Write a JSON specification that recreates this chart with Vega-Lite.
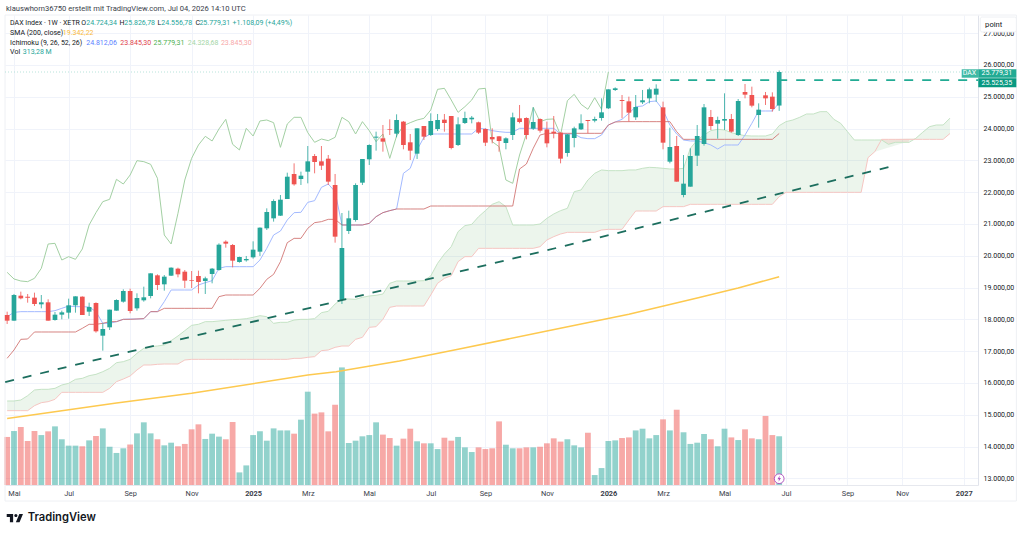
{
"$schema":"https://vega.github.io/schema/vega-lite/v6.json",
"autosize":"none",
"padding":{"left":5,"top":15,"right":46,"bottom":50},
"width":973,
"height":470,
"background":"white",
"title":{"text":"klauswhorn36750 erstellt mit TradingView.com, Jul 04, 2026 14:10 UTC","anchor":"start","frame":"group","font":"Roboto","fontSize":7.6,"fontWeight":"normal","color":"#3a3e4a","offset":1.5,"dx":1},
"config":{"view":{"stroke":null},"font":"Roboto","axis":{"labelOverlap":false}},
"datasets":{
"weeks":[
{"date":"2024-04-29","dir":"down","open":18137,"high":18242,"low":17854,"close":17959,"volume":309,"tenkan":18085,"kijun":16775,"chikou":19479,"spanA":15433,"spanB":15129},
{"date":"2024-05-06","dir":"up","open":17959,"high":18798,"low":17959,"close":18766,"volume":347,"tenkan":18221,"kijun":17037,"chikou":19270,"spanA":15433,"spanB":15129},
{"date":"2024-05-13","dir":"down","open":18745,"high":18871,"low":18630,"close":18661,"volume":373,"tenkan":18242,"kijun":17372,"chikou":19207,"spanA":15464,"spanB":15129},
{"date":"2024-05-20","dir":"down","open":18714,"high":18798,"low":18525,"close":18683,"volume":283,"tenkan":18242,"kijun":17383,"chikou":19186,"spanA":15600,"spanB":15129},
{"date":"2024-05-27","dir":"down","open":18683,"high":18840,"low":18420,"close":18483,"volume":347,"tenkan":18242,"kijun":17603,"chikou":19291,"spanA":15779,"spanB":15286},
{"date":"2024-06-03","dir":"up","open":18473,"high":18766,"low":18347,"close":18536,"volume":321,"tenkan":18242,"kijun":17603,"chikou":19605,"spanA":15800,"spanB":15380},
{"date":"2024-06-10","dir":"down","open":18536,"high":18630,"low":17959,"close":17959,"volume":345,"tenkan":18242,"kijun":17603,"chikou":20370,"spanA":15800,"spanB":15412},
{"date":"2024-06-17","dir":"up","open":17980,"high":18232,"low":17959,"close":18148,"volume":377,"tenkan":18274,"kijun":17603,"chikou":20391,"spanA":15831,"spanB":15485},
{"date":"2024-06-24","dir":"up","open":18148,"high":18274,"low":18001,"close":18221,"volume":294,"tenkan":18347,"kijun":17603,"chikou":19867,"spanA":15936,"spanB":15705},
{"date":"2024-07-01","dir":"up","open":18211,"high":18651,"low":18022,"close":18441,"volume":253,"tenkan":18420,"kijun":17603,"chikou":19972,"spanA":15988,"spanB":15705},
{"date":"2024-07-08","dir":"up","open":18441,"high":18724,"low":18211,"close":18724,"volume":253,"tenkan":18399,"kijun":17603,"chikou":19888,"spanA":16114,"spanB":15705},
{"date":"2024-07-15","dir":"down","open":18714,"high":18724,"low":18137,"close":18137,"volume":249,"tenkan":18399,"kijun":17718,"chikou":20213,"spanA":16145,"spanB":15705},
{"date":"2024-07-22","dir":"up","open":18242,"high":18525,"low":18106,"close":18389,"volume":287,"tenkan":18389,"kijun":17844,"chikou":20968,"spanA":16229,"spanB":15705},
{"date":"2024-07-29","dir":"down","open":18515,"high":18536,"low":17582,"close":17624,"volume":315,"tenkan":18242,"kijun":17844,"chikou":21356,"spanA":16271,"spanB":15705},
{"date":"2024-08-05","dir":"up","open":17487,"high":17875,"low":17016,"close":17697,"volume":364,"tenkan":17875,"kijun":17875,"chikou":21702,"spanA":16355,"spanB":15705},
{"date":"2024-08-12","dir":"up","open":17750,"high":18305,"low":17666,"close":18305,"volume":246,"tenkan":17875,"kijun":17928,"chikou":21775,"spanA":16460,"spanB":15831},
{"date":"2024-08-19","dir":"up","open":18274,"high":18630,"low":18274,"close":18609,"volume":206,"tenkan":17928,"kijun":17928,"chikou":22404,"spanA":16638,"spanB":16041},
{"date":"2024-08-26","dir":"up","open":18557,"high":18945,"low":18525,"close":18892,"volume":236,"tenkan":18001,"kijun":18001,"chikou":22257,"spanA":16670,"spanB":16124},
{"date":"2024-09-02","dir":"down","open":18892,"high":18966,"low":18190,"close":18263,"volume":261,"tenkan":18012,"kijun":18001,"chikou":22540,"spanA":16743,"spanB":16219},
{"date":"2024-09-09","dir":"up","open":18347,"high":18819,"low":18274,"close":18672,"volume":332,"tenkan":18012,"kijun":18012,"chikou":22991,"spanA":16932,"spanB":16408},
{"date":"2024-09-16","dir":"up","open":18599,"high":19028,"low":18557,"close":18693,"volume":403,"tenkan":18022,"kijun":18022,"chikou":22960,"spanA":17089,"spanB":16565},
{"date":"2024-09-23","dir":"up","open":18735,"high":19448,"low":18661,"close":19448,"volume":332,"tenkan":18242,"kijun":18242,"chikou":22876,"spanA":17141,"spanB":16565},
{"date":"2024-09-30","dir":"down","open":19385,"high":19416,"low":18924,"close":19081,"volume":294,"tenkan":18242,"kijun":18242,"chikou":22436,"spanA":17162,"spanB":16586},
{"date":"2024-10-07","dir":"up","open":19102,"high":19395,"low":18903,"close":19343,"volume":255,"tenkan":18557,"kijun":18347,"chikou":20653,"spanA":17194,"spanB":16596},
{"date":"2024-10-14","dir":"up","open":19374,"high":19636,"low":19364,"close":19626,"volume":272,"tenkan":18924,"kijun":18347,"chikou":20370,"spanA":17330,"spanB":16596},
{"date":"2024-10-21","dir":"down","open":19595,"high":19626,"low":19322,"close":19416,"volume":249,"tenkan":18924,"kijun":18347,"chikou":21335,"spanA":17477,"spanB":16596},
{"date":"2024-10-28","dir":"down","open":19500,"high":19553,"low":18986,"close":19217,"volume":264,"tenkan":18924,"kijun":18347,"chikou":22383,"spanA":17645,"spanB":16722},
{"date":"2024-11-04","dir":"down","open":19238,"high":19521,"low":18986,"close":19217,"volume":358,"tenkan":18924,"kijun":18347,"chikou":23065,"spanA":17812,"spanB":16743},
{"date":"2024-11-11","dir":"down","open":19364,"high":19532,"low":18819,"close":19175,"volume":390,"tenkan":19081,"kijun":18347,"chikou":23484,"spanA":17844,"spanB":16743},
{"date":"2024-11-18","dir":"up","open":19207,"high":19343,"low":18798,"close":19290,"volume":296,"tenkan":19154,"kijun":18347,"chikou":23756,"spanA":17928,"spanB":16743},
{"date":"2024-11-25","dir":"up","open":19427,"high":19615,"low":19133,"close":19595,"volume":330,"tenkan":19217,"kijun":18347,"chikou":23610,"spanA":17928,"spanB":16743},
{"date":"2024-12-02","dir":"up","open":19553,"high":20391,"low":19532,"close":20349,"volume":311,"tenkan":19605,"kijun":18714,"chikou":23987,"spanA":17949,"spanB":16743},
{"date":"2024-12-09","dir":"down","open":20444,"high":20486,"low":20255,"close":20381,"volume":294,"tenkan":19657,"kijun":18766,"chikou":24291,"spanA":17970,"spanB":16743},
{"date":"2024-12-16","dir":"down","open":20339,"high":20370,"low":19636,"close":19846,"volume":405,"tenkan":19657,"kijun":18766,"chikou":23505,"spanA":17990,"spanB":16743},
{"date":"2024-12-23","dir":"up","open":19804,"high":19972,"low":19783,"close":19961,"volume":81,"tenkan":19657,"kijun":18766,"chikou":23327,"spanA":18001,"spanB":16743},
{"date":"2024-12-30","dir":"up","open":19857,"high":19993,"low":19815,"close":19899,"volume":126,"tenkan":19657,"kijun":18766,"chikou":24008,"spanA":18022,"spanB":16743},
{"date":"2025-01-06","dir":"up","open":19951,"high":20454,"low":19909,"close":20192,"volume":321,"tenkan":19657,"kijun":18766,"chikou":23767,"spanA":18064,"spanB":16743},
{"date":"2025-01-13","dir":"up","open":20129,"high":20894,"low":19993,"close":20884,"volume":345,"tenkan":19867,"kijun":18976,"chikou":24239,"spanA":18116,"spanB":16743},
{"date":"2025-01-20","dir":"up","open":20863,"high":21492,"low":20811,"close":21377,"volume":285,"tenkan":20234,"kijun":19259,"chikou":24270,"spanA":18085,"spanB":16743},
{"date":"2025-01-27","dir":"up","open":21177,"high":21775,"low":21073,"close":21723,"volume":364,"tenkan":20653,"kijun":19416,"chikou":24186,"spanA":17875,"spanB":16743},
{"date":"2025-02-03","dir":"up","open":21261,"high":21911,"low":21251,"close":21764,"volume":351,"tenkan":20779,"kijun":19815,"chikou":23410,"spanA":17907,"spanB":16743},
{"date":"2025-02-10","dir":"up","open":21785,"high":22613,"low":21785,"close":22487,"volume":351,"tenkan":21125,"kijun":20412,"chikou":24144,"spanA":17907,"spanB":16743},
{"date":"2025-02-17","dir":"down","open":22572,"high":22907,"low":22205,"close":22247,"volume":330,"tenkan":21356,"kijun":20548,"chikou":24354,"spanA":17980,"spanB":16774},
{"date":"2025-02-24","dir":"up","open":22414,"high":22645,"low":22226,"close":22519,"volume":420,"tenkan":21366,"kijun":20548,"chikou":24354,"spanA":18001,"spanB":16774},
{"date":"2025-03-03","dir":"up","open":22645,"high":23452,"low":22278,"close":22970,"volume":600,"tenkan":21681,"kijun":20863,"chikou":23872,"spanA":18001,"spanB":16806},
{"date":"2025-03-10","dir":"down","open":23138,"high":23200,"low":22593,"close":22949,"volume":459,"tenkan":21733,"kijun":21041,"chikou":23568,"spanA":18022,"spanB":16827},
{"date":"2025-03-17","dir":"down","open":22970,"high":23452,"low":22697,"close":22834,"volume":467,"tenkan":22152,"kijun":21073,"chikou":23672,"spanA":18211,"spanB":17016},
{"date":"2025-03-24","dir":"down","open":23054,"high":23169,"low":22226,"close":22331,"volume":345,"tenkan":22257,"kijun":21146,"chikou":23620,"spanA":18253,"spanB":17037},
{"date":"2025-03-31","dir":"down","open":22226,"high":22572,"low":20412,"close":20601,"volume":516,"tenkan":22016,"kijun":21146,"chikou":23725,"spanA":18483,"spanB":17120},
{"date":"2025-04-07","dir":"up","open":18609,"high":21345,"low":18483,"close":20244,"volume":756,"tenkan":20968,"kijun":20968,"chikou":24354,"spanA":18650,"spanB":17162},
{"date":"2025-04-14","dir":"up","open":20779,"high":21419,"low":20685,"close":21178,"volume":270,"tenkan":20968,"kijun":20968,"chikou":24218,"spanA":18641,"spanB":17162},
{"date":"2025-04-21","dir":"up","open":21125,"high":22278,"low":21073,"close":22226,"volume":285,"tenkan":20968,"kijun":20968,"chikou":23830,"spanA":18630,"spanB":17372},
{"date":"2025-04-28","dir":"up","open":22299,"high":23043,"low":22226,"close":23043,"volume":313,"tenkan":20968,"kijun":20968,"chikou":24218,"spanA":18693,"spanB":17435},
{"date":"2025-05-05","dir":"up","open":23033,"high":23505,"low":22855,"close":23484,"volume":321,"tenkan":21020,"kijun":21020,"chikou":23935,"spanA":18735,"spanB":17749},
{"date":"2025-05-12","dir":"up","open":23714,"high":23903,"low":23306,"close":23746,"volume":403,"tenkan":21230,"kijun":21230,"chikou":23589,"spanA":18756,"spanB":17770},
{"date":"2025-05-19","dir":"down","open":23693,"high":24113,"low":23274,"close":23589,"volume":324,"tenkan":21356,"kijun":21356,"chikou":23830,"spanA":18798,"spanB":18001},
{"date":"2025-05-26","dir":"down","open":23976,"high":24291,"low":23798,"close":23956,"volume":302,"tenkan":21419,"kijun":21419,"chikou":23064,"spanA":19133,"spanB":18378},
{"date":"2025-06-02","dir":"up","open":23840,"high":24448,"low":23725,"close":24270,"volume":253,"tenkan":21471,"kijun":21471,"chikou":23767,"spanA":19207,"spanB":18420},
{"date":"2025-06-09","dir":"down","open":24218,"high":24239,"low":23348,"close":23484,"volume":298,"tenkan":22593,"kijun":21471,"chikou":24092,"spanA":19207,"spanB":18420},
{"date":"2025-06-16","dir":"down","open":23568,"high":23830,"low":23012,"close":23306,"volume":362,"tenkan":22750,"kijun":21471,"chikou":24186,"spanA":19207,"spanB":18420},
{"date":"2025-06-23","dir":"up","open":23211,"high":24008,"low":23044,"close":24008,"volume":281,"tenkan":23327,"kijun":21471,"chikou":24270,"spanA":19207,"spanB":18420},
{"date":"2025-06-30","dir":"down","open":24081,"high":24081,"low":23641,"close":23746,"volume":268,"tenkan":23725,"kijun":21471,"chikou":24322,"spanA":19217,"spanB":18420},
{"date":"2025-07-07","dir":"up","open":23798,"high":24480,"low":23767,"close":24239,"volume":268,"tenkan":23830,"kijun":21565,"chikou":24585,"spanA":19364,"spanB":18766},
{"date":"2025-07-14","dir":"up","open":23987,"high":24459,"low":23924,"close":24270,"volume":231,"tenkan":23830,"kijun":21565,"chikou":25234,"spanA":19762,"spanB":19133},
{"date":"2025-07-21","dir":"down","open":24280,"high":24459,"low":23903,"close":24176,"volume":304,"tenkan":23830,"kijun":21565,"chikou":25266,"spanA":20056,"spanB":19290},
{"date":"2025-07-28","dir":"down","open":24396,"high":24396,"low":23348,"close":23389,"volume":285,"tenkan":23830,"kijun":21565,"chikou":24899,"spanA":20286,"spanB":19374},
{"date":"2025-08-04","dir":"up","open":23484,"high":24354,"low":23452,"close":24134,"volume":309,"tenkan":23830,"kijun":21565,"chikou":24511,"spanA":20758,"spanB":19815},
{"date":"2025-08-11","dir":"up","open":24176,"high":24532,"low":24144,"close":24333,"volume":242,"tenkan":23830,"kijun":21565,"chikou":24689,"spanA":20947,"spanB":19972},
{"date":"2025-08-18","dir":"up","open":24291,"high":24396,"low":24165,"close":24343,"volume":212,"tenkan":23830,"kijun":21565,"chikou":24899,"spanA":20989,"spanB":19972},
{"date":"2025-08-25","dir":"down","open":24197,"high":24218,"low":23830,"close":23872,"volume":242,"tenkan":24008,"kijun":21565,"chikou":25245,"spanA":21230,"spanB":20234},
{"date":"2025-09-01","dir":"down","open":23987,"high":24008,"low":23452,"close":23557,"volume":231,"tenkan":23987,"kijun":21565,"chikou":25266,"spanA":21419,"spanB":20234},
{"date":"2025-09-08","dir":"down","open":23735,"high":24008,"low":23536,"close":23662,"volume":236,"tenkan":23935,"kijun":21565,"chikou":23589,"spanA":21618,"spanB":20234},
{"date":"2025-09-15","dir":"down","open":23756,"high":23767,"low":23274,"close":23610,"volume":409,"tenkan":23903,"kijun":21565,"chikou":23431,"spanA":21702,"spanB":20234},
{"date":"2025-09-22","dir":"up","open":23547,"high":23725,"low":23348,"close":23693,"volume":259,"tenkan":23882,"kijun":21565,"chikou":22383,"spanA":21544,"spanB":20234},
{"date":"2025-09-29","dir":"up","open":23798,"high":24501,"low":23641,"close":24354,"volume":236,"tenkan":23882,"kijun":21565,"chikou":22278,"spanA":20968,"spanB":20234},
{"date":"2025-10-06","dir":"down","open":24322,"high":24742,"low":24165,"close":24207,"volume":236,"tenkan":24008,"kijun":22729,"chikou":23169,"spanA":20968,"spanB":20234},
{"date":"2025-10-13","dir":"down","open":24333,"high":24354,"low":23662,"close":23798,"volume":242,"tenkan":24008,"kijun":22886,"chikou":23830,"spanA":20968,"spanB":20234},
{"date":"2025-10-20","dir":"up","open":23998,"high":24668,"low":23956,"close":24207,"volume":242,"tenkan":24008,"kijun":23379,"chikou":24668,"spanA":20968,"spanB":20234},
{"date":"2025-10-27","dir":"down","open":24302,"high":24322,"low":23872,"close":23935,"volume":246,"tenkan":24008,"kijun":23798,"chikou":24218,"spanA":20999,"spanB":20286},
{"date":"2025-11-03","dir":"down","open":23976,"high":24218,"low":23410,"close":23536,"volume":268,"tenkan":24008,"kijun":23851,"chikou":24291,"spanA":21178,"spanB":20496},
{"date":"2025-11-10","dir":"down","open":23903,"high":24396,"low":23693,"close":23851,"volume":300,"tenkan":24008,"kijun":23851,"chikou":24302,"spanA":21314,"spanB":20601},
{"date":"2025-11-17","dir":"down","open":23872,"high":23882,"low":22907,"close":23054,"volume":279,"tenkan":23830,"kijun":23851,"chikou":23798,"spanA":21419,"spanB":20685},
{"date":"2025-11-24","dir":"up","open":23232,"high":23830,"low":23117,"close":23819,"volume":294,"tenkan":23830,"kijun":23851,"chikou":24878,"spanA":21492,"spanB":20737},
{"date":"2025-12-01","dir":"up","open":23704,"high":24060,"low":23410,"close":24008,"volume":255,"tenkan":23830,"kijun":23851,"chikou":25077,"spanA":22016,"spanB":20737},
{"date":"2025-12-08","dir":"up","open":23976,"high":24448,"low":23956,"close":24165,"volume":242,"tenkan":23714,"kijun":23851,"chikou":24763,"spanA":22069,"spanB":20737},
{"date":"2025-12-15","dir":"down","open":24270,"high":24270,"low":23851,"close":24239,"volume":336,"tenkan":23683,"kijun":23851,"chikou":24606,"spanA":22383,"spanB":20737},
{"date":"2025-12-22","dir":"up","open":24249,"high":24375,"low":24197,"close":24302,"volume":64,"tenkan":23683,"kijun":23851,"chikou":24972,"spanA":22593,"spanB":20737},
{"date":"2025-12-29","dir":"up","open":24333,"high":24951,"low":24249,"close":24511,"volume":109,"tenkan":23798,"kijun":23851,"chikou":24606,"spanA":22698,"spanB":20810},
{"date":"2026-01-05","dir":"up","open":24637,"high":25234,"low":24616,"close":25234,"volume":283,"tenkan":24113,"kijun":24113,"chikou":25779,"spanA":22677,"spanB":20831},
{"date":"2026-01-12","dir":"up","open":25213,"high":25297,"low":25182,"close":25266,"volume":287,"tenkan":24207,"kijun":24207,"spanA":22677,"spanB":20831},
{"date":"2026-01-19","dir":"down","open":24899,"high":25056,"low":24322,"close":24868,"volume":302,"tenkan":24291,"kijun":24218,"spanA":22677,"spanB":20831},
{"date":"2026-01-26","dir":"down","open":24857,"high":25004,"low":24218,"close":24501,"volume":306,"tenkan":24480,"kijun":24218,"spanA":22698,"spanB":21125},
{"date":"2026-02-02","dir":"up","open":24354,"high":25056,"low":24270,"close":24679,"volume":351,"tenkan":24689,"kijun":24218,"spanA":22698,"spanB":21408},
{"date":"2026-02-09","dir":"up","open":24826,"high":25214,"low":24773,"close":24889,"volume":362,"tenkan":24710,"kijun":24218,"spanA":22750,"spanB":21408},
{"date":"2026-02-16","dir":"up","open":24951,"high":25287,"low":24794,"close":25234,"volume":300,"tenkan":24847,"kijun":24218,"spanA":22781,"spanB":21408},
{"date":"2026-02-23","dir":"up","open":25067,"high":25392,"low":24847,"close":25255,"volume":321,"tenkan":24868,"kijun":24218,"spanA":22771,"spanB":21408},
{"date":"2026-03-02","dir":"down","open":24668,"high":24847,"low":23348,"close":23557,"volume":422,"tenkan":24585,"kijun":24218,"spanA":22750,"spanB":21545},
{"date":"2026-03-09","dir":"up","open":22960,"high":24029,"low":22907,"close":23421,"volume":351,"tenkan":24113,"kijun":24218,"spanA":22729,"spanB":21545},
{"date":"2026-03-16","dir":"down","open":23452,"high":23767,"low":22331,"close":22331,"volume":484,"tenkan":23830,"kijun":23903,"spanA":22729,"spanB":21545},
{"date":"2026-03-23","dir":"up","open":21911,"high":23169,"low":21838,"close":22268,"volume":339,"tenkan":23641,"kijun":23662,"spanA":22750,"spanB":21545},
{"date":"2026-03-30","dir":"up","open":22173,"high":23379,"low":22173,"close":23138,"volume":264,"tenkan":23610,"kijun":23662,"spanA":23379,"spanB":21618},
{"date":"2026-04-06","dir":"up","open":23148,"high":24113,"low":22823,"close":23767,"volume":272,"tenkan":23610,"kijun":23662,"spanA":23641,"spanB":21618},
{"date":"2026-04-13","dir":"up","open":23515,"high":24773,"low":23463,"close":24668,"volume":328,"tenkan":23557,"kijun":23662,"spanA":23798,"spanB":21618},
{"date":"2026-04-20","dir":"down","open":24364,"high":24585,"low":23956,"close":24081,"volume":294,"tenkan":23484,"kijun":23662,"spanA":23935,"spanB":21618},
{"date":"2026-04-27","dir":"up","open":24155,"high":24375,"low":23683,"close":24270,"volume":249,"tenkan":23358,"kijun":23662,"spanA":23977,"spanB":21618},
{"date":"2026-05-04","dir":"up","open":24249,"high":25109,"low":23956,"close":24302,"volume":362,"tenkan":23484,"kijun":23662,"spanA":23956,"spanB":21618},
{"date":"2026-05-11","dir":"down","open":24302,"high":24459,"low":23872,"close":23903,"volume":306,"tenkan":23484,"kijun":23662,"spanA":23872,"spanB":21618},
{"date":"2026-05-18","dir":"up","open":23798,"high":24930,"low":23767,"close":24868,"volume":289,"tenkan":23484,"kijun":23662,"spanA":23819,"spanB":21618},
{"date":"2026-05-25","dir":"down","open":25151,"high":25402,"low":24951,"close":25067,"volume":358,"tenkan":23798,"kijun":23662,"spanA":23777,"spanB":21618},
{"date":"2026-06-01","dir":"down","open":25056,"high":25318,"low":24668,"close":24721,"volume":300,"tenkan":24165,"kijun":23662,"spanA":23767,"spanB":21618},
{"date":"2026-06-08","dir":"up","open":24427,"high":24794,"low":24029,"close":24595,"volume":294,"tenkan":24553,"kijun":23662,"spanA":23767,"spanB":21618},
{"date":"2026-06-15","dir":"down","open":25046,"high":25151,"low":24742,"close":24951,"volume":444,"tenkan":24553,"kijun":23662,"spanA":23767,"spanB":21618},
{"date":"2026-06-22","dir":"down","open":25004,"high":25140,"low":24532,"close":24616,"volume":321,"tenkan":24553,"kijun":23662,"spanA":23830,"spanB":21618},
{"date":"2026-06-29","dir":"up","open":24724.34,"high":25826.78,"low":24556.78,"close":25779.31,"volume":313.28,"tenkan":24812.06,"kijun":23845.3,"spanA":24092,"spanB":21859},
{"date":"2026-07-06","spanA":24218,"spanB":21995},
{"date":"2026-07-13","spanA":24270,"spanB":21995},
{"date":"2026-07-20","spanA":24354,"spanB":21995},
{"date":"2026-07-27","spanA":24459,"spanB":21995},
{"date":"2026-08-03","spanA":24459,"spanB":21995},
{"date":"2026-08-10","spanA":24532,"spanB":21995},
{"date":"2026-08-17","spanA":24532,"spanB":21995},
{"date":"2026-08-24","spanA":24291,"spanB":21995},
{"date":"2026-08-31","spanA":24165,"spanB":21995},
{"date":"2026-09-07","spanA":23903,"spanB":21995},
{"date":"2026-09-14","spanA":23641,"spanB":21995},
{"date":"2026-09-21","spanA":23641,"spanB":21995},
{"date":"2026-09-28","spanA":23641,"spanB":23085},
{"date":"2026-10-05","spanA":23641,"spanB":23274},
{"date":"2026-10-12","spanA":23641,"spanB":23662},
{"date":"2026-10-19","spanA":23505,"spanB":23662},
{"date":"2026-10-26","spanA":23568,"spanB":23662},
{"date":"2026-11-02","spanA":23568,"spanB":23662},
{"date":"2026-11-09","spanA":23568,"spanB":23662},
{"date":"2026-11-16","spanA":23693,"spanB":23662},
{"date":"2026-11-23","spanA":23882,"spanB":23662},
{"date":"2026-11-30","spanA":24060,"spanB":23662},
{"date":"2026-12-07","spanA":24113,"spanB":23662},
{"date":"2026-12-14","spanA":24113,"spanB":23662},
{"date":"2026-12-21","spanA":24328.68,"spanB":23845.3}
],
"sma":[
{"date":"2024-04-29","value":14882},
{"date":"2024-08-19","value":15370},
{"date":"2024-11-04","value":15675},
{"date":"2025-03-03","value":16250},
{"date":"2025-04-01","value":16354},
{"date":"2025-06-05","value":16690},
{"date":"2025-08-04","value":17058},
{"date":"2025-11-03","value":17634},
{"date":"2026-01-26","value":18160},
{"date":"2026-04-06","value":18672},
{"date":"2026-05-18","value":18985},
{"date":"2026-06-29","value":19342.22}
],
"trend":[{"date":"2024-04-27","value":16030},{"date":"2026-10-26","value":22839}],
"level":[{"date":"2026-01-13","value":25525.35},{"date":"2027-01-18T17:00:00Z","value":25525.35}],
"lastClose":[{"date":"2024-04-26T19:00:00Z","value":25779.31},{"date":"2027-01-18T17:00:00Z","value":25779.31}],
"frame":[{"date":"2024-04-26T19:00:00Z","date2":"2027-02-27","top":27572,"bottom":12287}],
"box":[{"date":"2027-01-21","date2":"2027-02-27","top":27509,"bottom":27038}],
"tags":[
{"date":"2027-01-02","date2":"2027-01-19","top":25865,"bottom":25600,"kind":"tagName"},
{"date":"2027-01-19","date2":"2027-02-27","top":25865,"bottom":25600,"kind":"tagClose"},
{"date":"2027-01-19","date2":"2027-02-27","top":25581,"bottom":25298,"kind":"tagLevel"}
],
"tagText":[
{"date":"2027-01-10","value":25733,"text":"DAX"},
{"date":"2027-02-07","value":25733,"text":"25.779,31"},
{"date":"2027-02-07","value":25440,"text":"25.525,35"}
],
"legendText":[
{"date":"2024-05-02","value":27305,"text":"DAX Index · 1W · XETR","kind":"label"},
{"date":"2024-07-14","value":27305,"text":"O","kind":"label"},
{"date":"2024-07-19","value":27305,"text":"24.724,34","kind":"up"},
{"date":"2024-08-22","value":27305,"text":"H","kind":"label"},
{"date":"2024-08-27","value":27305,"text":"25.826,78","kind":"up"},
{"date":"2024-09-30","value":27305,"text":"L","kind":"label"},
{"date":"2024-10-04","value":27305,"text":"24.556,78","kind":"up"},
{"date":"2024-11-08","value":27305,"text":"C","kind":"label"},
{"date":"2024-11-12","value":27305,"text":"25.779,31","kind":"up"},
{"date":"2024-12-16","value":27305,"text":"+1.108,09 (+4,49%)","kind":"up"},
{"date":"2024-05-02","value":27006,"text":"SMA (200, close)","kind":"label"},
{"date":"2024-06-25","value":27006,"text":"19.342,22","kind":"smaText"},
{"date":"2024-05-02","value":26707,"text":"Ichimoku (9, 26, 52, 26)","kind":"label"},
{"date":"2024-07-19","value":26707,"text":"24.812,06","kind":"tenkanText"},
{"date":"2024-08-23","value":26707,"text":"23.845,30","kind":"kijunText"},
{"date":"2024-09-26","value":26707,"text":"25.779,31","kind":"chikouText"},
{"date":"2024-10-31","value":26707,"text":"24.328,68","kind":"spanAText"},
{"date":"2024-12-04","value":26707,"text":"23.845,30","kind":"spanBText"},
{"date":"2024-05-02","value":26409,"text":"Vol","kind":"label"},
{"date":"2024-05-15","value":26409,"text":"313,28 M","kind":"up"}
],
"scaleName":[{"date":"2027-01-26","value":27273,"text":"point"}],
"brand":[{"date":"2024-05-20","value":11753,"text":"TradingView"}],
"logo":[{"date":"2024-05-07","value":11753}],
"flash":[{"date":"2026-06-29","value":12989}]
},
"layer":[
{"data":{"name":"weeks"},
"mark":{"type":"bar","size":5.8,"opacity":0.5},
"encoding":{
"x":{"field":"date","type":"temporal"},
"y":{"field":"volume","type":"quantitative","scale":{"domain":[0,3022]},"axis":null},
"color":{"field":"dir","type":"nominal","legend":null,"scale":{
"domain":["up","down","label","smaText","tenkanText","kijunText","chikouText","spanAText","spanBText","tagName","tagClose","tagLevel"],
"range":["#26a69a","#ef5350","#131722","#f9b93c","#5b82ff","#e0404a","#4caf50","#a5d6a7","#f7a8a8","#3fb9a5","#22ab94","#089981"]}}
}},
{"layer":[
{"data":{"name":"frame"},
"mark":{"type":"rect","fill":null,"stroke":"#eef0f4","strokeWidth":1},
"encoding":{
"x":{"field":"date","type":"temporal","title":null,
"scale":{"type":"utc","domain":["2024-04-26T19:00:00Z","2027-01-18T17:00:00Z"],"nice":false,"padding":0},
"axis":{"values":["2024-05-06T00:00:00Z","2024-07-01T00:00:00Z","2024-09-02T00:00:00Z","2024-11-04T00:00:00Z","2025-01-06T00:00:00Z","2025-03-03T00:00:00Z","2025-05-05T00:00:00Z","2025-07-07T00:00:00Z","2025-09-01T00:00:00Z","2025-11-03T00:00:00Z","2026-01-05T00:00:00Z","2026-03-02T00:00:00Z","2026-05-04T00:00:00Z","2026-07-06T00:00:00Z","2026-09-07T00:00:00Z","2026-11-02T00:00:00Z","2027-01-04T00:00:00Z"],
"labelExpr":"utcmonth(datum.value)==0 ? ''+utcyear(datum.value) : ['Jan','Feb','Mrz','Apr','Mai','Jun','Jul','Aug','Sep','Okt','Nov','Dez'][utcmonth(datum.value)]",
"labelFontWeight":{"condition":{"test":"utcmonth(datum.value)==0","value":"bold"},"value":"normal"},
"title":null,"tickCount":30,"grid":true,"gridColor":"#f0f3fa","ticks":false,"domainColor":"#e6e8ee","labelColor":"#3a3e4a","labelFontSize":7.4,"labelPadding":4,"labelOverlap":false,"labelBound":false,"labelFlush":false}},
"x2":{"field":"date2"},
"y":{"field":"top","type":"quantitative","title":null,
"scale":{"domain":[12791,27572],"nice":false,"zero":false},
"axis":{"orient":"right","values":[13000,14000,15000,16000,17000,18000,19000,20000,21000,22000,23000,24000,25000,26000,27000],
"labelExpr":"replace(replace(replace(format(datum.value,',.2f'),',','#'),'.',','),'#','.')",
"title":null,"tickCount":30,"grid":true,"gridColor":"#f0f3fa","ticks":false,"domain":true,"domainColor":"#e0e3eb","labelColor":"#131722","labelFontSize":7,"labelPadding":5,"labelOverlap":false}},
"y2":{"field":"bottom"}
}},
{"data":{"name":"weeks"},
"transform":[{"filter":"datum.spanA>datum.spanB"}],
"mark":{"type":"area","color":"#43a047","opacity":0.1},
"encoding":{"x":{"field":"date","type":"temporal"},"y":{"field":"spanA","type":"quantitative"},"y2":{"field":"spanB"}}},
{"data":{"name":"weeks"},
"transform":[{"filter":"datum.spanA<=datum.spanB"}],
"mark":{"type":"area","color":"#f44336","opacity":0.1},
"encoding":{"x":{"field":"date","type":"temporal"},"y":{"field":"spanA","type":"quantitative"},"y2":{"field":"spanB"}}},
{"data":{"name":"weeks"},"mark":{"type":"line","color":"#c5e3c5","strokeWidth":1},
"encoding":{"x":{"field":"date","type":"temporal"},"y":{"field":"spanA","type":"quantitative"}}},
{"data":{"name":"weeks"},"mark":{"type":"line","color":"#f6c6c2","strokeWidth":1},
"encoding":{"x":{"field":"date","type":"temporal"},"y":{"field":"spanB","type":"quantitative"}}},
{"data":{"name":"sma"},"mark":{"type":"line","color":"#fdc94f","strokeWidth":1.5},
"encoding":{"x":{"field":"date","type":"temporal"},"y":{"field":"value","type":"quantitative"}}},
{"data":{"name":"lastClose"},"mark":{"type":"line","color":"#a6dcd2","strokeWidth":0.8,"strokeDash":[1,2]},
"encoding":{"x":{"field":"date","type":"temporal"},"y":{"field":"value","type":"quantitative"}}},
{"data":{"name":"weeks"},"mark":{"type":"line","color":"#a3d0a3","strokeWidth":1},
"encoding":{"x":{"field":"date","type":"temporal"},"y":{"field":"chikou","type":"quantitative"}}},
{"data":{"name":"weeks"},"mark":{"type":"line","color":"#a3baff","strokeWidth":1},
"encoding":{"x":{"field":"date","type":"temporal"},"y":{"field":"tenkan","type":"quantitative"}}},
{"data":{"name":"weeks"},"mark":{"type":"line","color":"#cf6f6c","strokeWidth":1,"opacity":0.85},
"encoding":{"x":{"field":"date","type":"temporal"},"y":{"field":"kijun","type":"quantitative"}}},
{"data":{"name":"weeks"},"mark":{"type":"rule","strokeWidth":0.8},
"encoding":{"x":{"field":"date","type":"temporal"},"y":{"field":"high","type":"quantitative"},"y2":{"field":"low"},
"color":{"field":"dir","type":"nominal","legend":null}}},
{"data":{"name":"weeks"},"mark":{"type":"bar","size":4.7},
"encoding":{"x":{"field":"date","type":"temporal"},"y":{"field":"open","type":"quantitative"},"y2":{"field":"close"},
"color":{"field":"dir","type":"nominal","legend":null}}},
{"data":{"name":"trend"},"mark":{"type":"line","color":"#1c6e5e","strokeWidth":1.8,"strokeDash":[9,9]},
"encoding":{"x":{"field":"date","type":"temporal"},"y":{"field":"value","type":"quantitative"}}},
{"data":{"name":"level"},"mark":{"type":"line","color":"#22ab94","strokeWidth":1.8,"strokeDash":[9,9]},
"encoding":{"x":{"field":"date","type":"temporal"},"y":{"field":"value","type":"quantitative"}}},
{"data":{"name":"tags"},"mark":{"type":"rect"},
"encoding":{"x":{"field":"date","type":"temporal"},"x2":{"field":"date2"},"y":{"field":"top","type":"quantitative"},"y2":{"field":"bottom"},
"color":{"field":"kind","type":"nominal","legend":null}}},
{"data":{"name":"tagText"},"mark":{"type":"text","color":"white","fontSize":7,"align":"center","baseline":"middle"},
"encoding":{"x":{"field":"date","type":"temporal"},"y":{"field":"value","type":"quantitative"},"text":{"field":"text"}}},
{"data":{"name":"legendText"},"mark":{"type":"text","fontSize":7,"align":"left","baseline":"middle"},
"encoding":{"x":{"field":"date","type":"temporal"},"y":{"field":"value","type":"quantitative"},"text":{"field":"text"},
"color":{"field":"kind","type":"nominal","legend":null}}},
{"data":{"name":"box"},"mark":{"type":"rect","fill":"white","stroke":"#eef0f4","cornerRadius":2},
"encoding":{"x":{"field":"date","type":"temporal"},"x2":{"field":"date2"},"y":{"field":"top","type":"quantitative"},"y2":{"field":"bottom"}}},
{"data":{"name":"scaleName"},"mark":{"type":"text","color":"#131722","fontSize":7.6,"align":"left","baseline":"middle"},
"encoding":{"x":{"field":"date","type":"temporal"},"y":{"field":"value","type":"quantitative"},"text":{"field":"text"}}},
{"data":{"name":"brand"},"mark":{"type":"text","color":"#131722","font":"Inter","fontSize":11.2,"fontWeight":600,"align":"left","baseline":"middle"},
"encoding":{"x":{"field":"date","type":"temporal"},"y":{"field":"value","type":"quantitative"},"text":{"field":"text"}}},
{"data":{"name":"logo"},"mark":{"type":"point","filled":true,"opacity":1,"color":"#131722","size":272,"shape":"M-.222 .5H-.611V-.111H-1V-.5H-.222ZM.556 .5H.111L.528 -.5H.972ZM-.083 -.306A.194 .194 0 1 0 .305 -.306A.194 .194 0 1 0 -.083 -.306Z"},
"encoding":{"x":{"field":"date","type":"temporal"},"y":{"field":"value","type":"quantitative"}}},
{"data":{"name":"flash"},"mark":{"type":"point","shape":"circle","filled":true,"fill":"white","stroke":"#ab47bc","strokeWidth":0.9,"opacity":1,"size":95},
"encoding":{"x":{"field":"date","type":"temporal"},"y":{"field":"value","type":"quantitative"}}},
{"data":{"name":"flash"},"mark":{"type":"point","filled":true,"opacity":1,"color":"#ab47bc","size":40,"shape":"M.2 -1L-.55 .15H-.05L-.2 1L.55 -.2H.05Z"},
"encoding":{"x":{"field":"date","type":"temporal"},"y":{"field":"value","type":"quantitative"}}}
]}
],
"resolve":{"scale":{"y":"independent"}}
}
